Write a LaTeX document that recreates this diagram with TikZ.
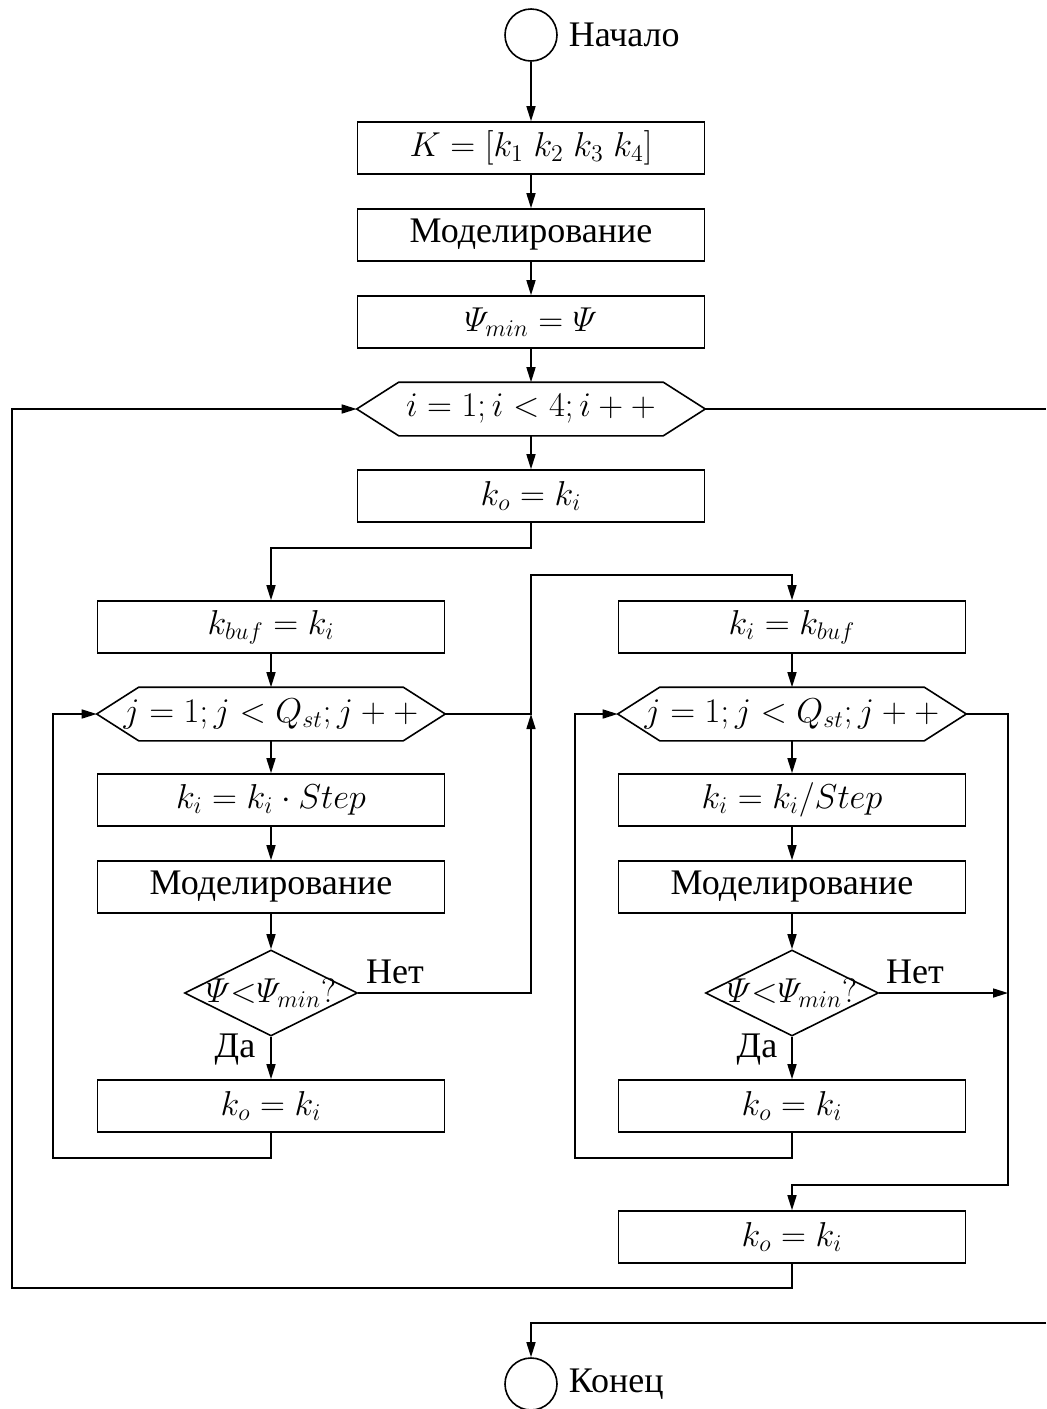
\documentclass[tikz,border=0pt]{standalone}
\usepackage{fontspec}
\setmainfont{Liberation Serif}
\usetikzlibrary{shapes.geometric,arrows.meta}
% hexagon (loop header) drawn around a rectangular node
\newcommand\loophex[2]{\draw (#1.west) -- ([xshift=#2]#1.north west) -- ([xshift=-#2]#1.north east) -- (#1.east) -- ([xshift=-#2]#1.south east) -- ([xshift=#2]#1.south west) -- cycle;}
% italic capital psi from the math italic family
\newcommand\ipsi{\mathnormal{\Psi}}
\begin{document}
\begin{tikzpicture}[x=0.5pt,y=-0.5pt,
  line width=0.8pt,
  every node/.style={font=\fontsize{18}{21}\selectfont},
  box/.style={draw, rectangle, minimum width=173.5pt, minimum height=26pt, inner sep=0pt},
  hexa/.style={rectangle, minimum width=173.5pt, minimum height=26pt, inner sep=0pt},
  dec/.style={draw, diamond, minimum width=86.5pt, minimum height=43pt, inner sep=0pt},
  term/.style={draw, circle, minimum size=26pt, inner sep=0pt},
  arr/.style={-{Triangle[length=7.5pt,width=4.5pt]}},
  lbl/.style={inner sep=1pt}
]
\clip (0,0) rectangle (1046,1409);

% main column
\node[term] (start) at (531,35) {};
\node[lbl, anchor=west] (startlbl) at (566,35) {Начало};
\node[box] (K) at (531,148) {$K = [k_1\; k_2\; k_3\; k_4]$};
\node[box] (mod1) at (531,235) {Моделирование};
\node[box] (psi) at (531,322) {$\ipsi_{min} = \ipsi$};
\node[hexa] (hexi) at (531,409) {$i = 1; i < 4; i + +$};
\loophex{hexi}{21pt}
\node[box] (ko1) at (531,496) {$k_o = k_i$};

% left branch: increasing k_i
\node[box] (kbuf) at (271,627) {$k_{buf} = k_i$};
\node[hexa] (hexj1) at (271,714) {$j = 1; j < Q_{st}; j + +$};
\loophex{hexj1}{21pt}
\node[box] (mul) at (271,800) {$k_i = k_i \cdot Step$};
\node[box] (mod2) at (271,887) {Моделирование};
\node[dec] (d1) at (271,993) {};
\node[lbl] (d1txt) at (271,993) {$\ipsi{<}\ipsi_{min}?$};
\node[box] (ko2) at (271,1106) {$k_o = k_i$};
\node[lbl] (no1) at (395,972) {Нет};
\node[lbl] (yes1) at (235,1050) {Да};

% right branch: decreasing k_i
\node[box] (kib) at (792,627) {$k_i = k_{buf}$};
\node[hexa] (hexj2) at (792,714) {$j = 1; j < Q_{st}; j + +$};
\loophex{hexj2}{21pt}
\node[box] (div) at (792,800) {$k_i = k_i / Step$};
\node[box] (mod3) at (792,887) {Моделирование};
\node[dec] (d2) at (792,993) {};
\node[lbl] (d2txt) at (792,993) {$\ipsi{<}\ipsi_{min}?$};
\node[box] (ko3) at (792,1106) {$k_o = k_i$};
\node[lbl] (no2) at (915,972) {Нет};
\node[lbl] (yes2) at (757,1050) {Да};
\node[box] (kof) at (792,1237) {$k_o = k_i$};

% end
\node[term] (finish) at (531,1384) {};
\node[lbl, anchor=west] (finishlbl) at (566,1384) {Конец};

% routing points
\coordinate (bend1) at (531,548);
\coordinate (jn1) at (531,714);
\coordinate (top1) at (531,575);
\coordinate (lp1) at (53,1158);
\coordinate (lp2) at (575,1158);
\coordinate (rt) at (1008,1185);
\coordinate (lp3) at (12,1288);
\coordinate (edge1) at (1046,409);
\coordinate (edge2) at (1046,1323);

% main column connectors
\draw[arr] (start) -- (K);
\draw[arr] (K) -- (mod1);
\draw[arr] (mod1) -- (psi);
\draw[arr] (psi) -- (hexi);
\draw[arr] (hexi) -- (ko1);
\draw[arr] (ko1.south) -- (bend1) -| (kbuf.north);

% left branch connectors
\draw[arr] (kbuf) -- (hexj1);
\draw[arr] (hexj1) -- (mul);
\draw[arr] (mul) -- (mod2);
\draw[arr] (mod2) -- (d1.north);
\draw[arr] (d1.south) -- (ko2.north);
\draw[arr] (ko2.south) |- (lp1) |- (hexj1.west);
\draw[arr] (d1.east) -| (jn1);
\draw[arr] (hexj1.east) -- (jn1) -- (top1) -| (kib.north);

% right branch connectors
\draw[arr] (kib) -- (hexj2);
\draw[arr] (hexj2) -- (div);
\draw[arr] (div) -- (mod3);
\draw[arr] (mod3) -- (d2.north);
\draw[arr] (d2.south) -- (ko3.north);
\draw[arr] (ko3.south) |- (lp2) |- (hexj2.west);
\draw[arr] (d2.east) -- (d2.east -| rt);
\draw[arr] (hexj2.east) -| (rt) -| (kof.north);
\draw[arr] (kof.south) |- (lp3) |- (hexi.west);

% exit of the outer loop
\draw (hexi.east) -- (edge1);
\draw[arr] (edge2) -| (finish.north);
\end{tikzpicture}
\end{document}
